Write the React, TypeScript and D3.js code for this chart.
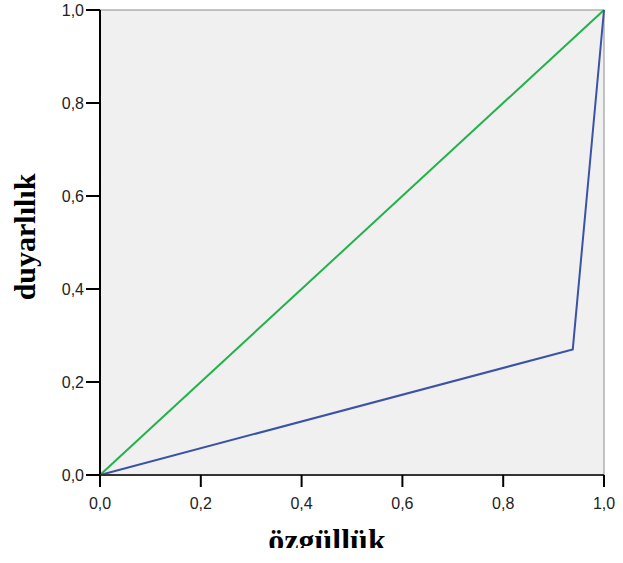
import React from "react";
import { scaleLinear, line } from "d3";

// ROC curve data
const rocX = [0, 0.938, 1];
const rocY = [0, 0.27, 1];
const refX = [0, 1];
const refY = [0, 1];
const tickValues = [0, 0.2, 0.4, 0.6, 0.8, 1];
const xTitle = "özgüllük";
const yTitle = "duyarlılık";

const W = 623;
const H = 563;
const left = 100, right = 604, top = 10, bottom = 475;

const fmt = (v: number) => v.toFixed(1).replace(".", ",");

export default function App() {
  const x = scaleLinear().domain([0, 1]).range([left, right]);
  const y = scaleLinear().domain([0, 1]).range([bottom, top]);
  const path = line<[number, number]>()
    .x((d) => x(d[0]))
    .y((d) => y(d[1]));

  const roc = rocX.map((v, i) => [v, rocY[i]] as [number, number]);
  const ref = refX.map((v, i) => [v, refY[i]] as [number, number]);

  return (
    <div style={{ position: "absolute", left: 0, top: 0 }}>
      <svg width={W} height={H} style={{ display: "block", background: "white" }}>
        <defs>
          <clipPath id="xclip">
            <rect x={0} y={0} width={W} height={548} />
          </clipPath>
        </defs>
        <rect x={left} y={top} width={right - left} height={bottom - top} fill="#f0f0f0" stroke="#8c8c8c" strokeWidth={1} />
        <path d={path(ref) || ""} fill="none" stroke="#22b24a" strokeWidth={2} />
        <path d={path(roc) || ""} fill="none" stroke="#3b52a6" strokeWidth={2} strokeLinejoin="miter" />
        {/* axes */}
        <line x1={left} x2={left} y1={top} y2={bottom} stroke="#000" strokeWidth={2} />
        <line x1={left} x2={right} y1={bottom} y2={bottom} stroke="#333" strokeWidth={2} />
        {tickValues.map((t) => (
          <g key={"y" + t}>
            <line x1={86} x2={left} y1={y(t)} y2={y(t)} stroke="#000" strokeWidth={2} />
            <text x={84} y={y(t)} dy="0.36em" textAnchor="end" fontFamily="Liberation Sans, Arial, sans-serif" fontSize={16} fill="#222">
              {fmt(t)}
            </text>
          </g>
        ))}
        {tickValues.map((t) => (
          <g key={"x" + t}>
            <line x1={x(t)} x2={x(t)} y1={bottom} y2={487} stroke="#000" strokeWidth={2} />
            <text x={x(t)} y={509} textAnchor="middle" fontFamily="Liberation Sans, Arial, sans-serif" fontSize={16} fill="#222">
              {fmt(t)}
            </text>
          </g>
        ))}
        <g clipPath="url(#xclip)">
          <text x={327} y={551} textAnchor="middle" fontFamily="Liberation Serif, Times New Roman, serif" fontWeight="bold" fontSize={32} fill="#000">
            {xTitle}
          </text>
        </g>
        <text
          transform={`translate(35,237) rotate(-90)`}
          textAnchor="middle"
          fontFamily="Liberation Serif, Times New Roman, serif"
          fontWeight="bold"
          fontSize={30}
          fill="#000"
        >
          {yTitle}
        </text>
      </svg>
    </div>
  );
}
